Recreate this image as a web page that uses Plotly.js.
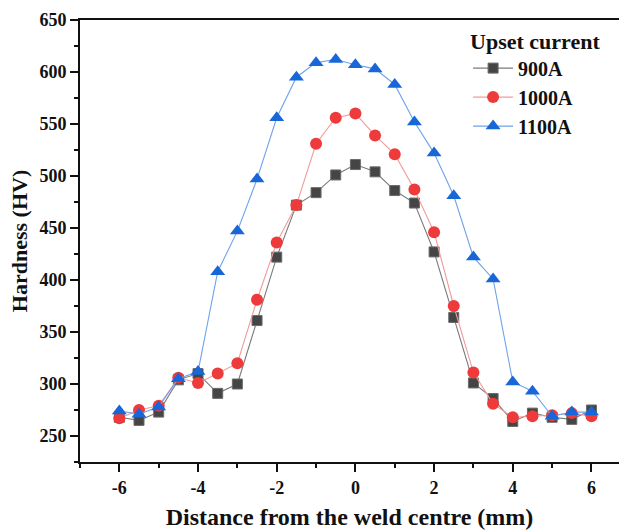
<!DOCTYPE html>
<html>
<head>
<meta charset="utf-8">
<script src="https://cdn.plot.ly/plotly-3.0.1.min.js"></script>
<style>html,body{margin:0;padding:0;background:#fff;}#chart{width:619px;height:530px;}</style>
</head>
<body>
<div id="chart"></div>
<script>
const distance = [-6,-5.5,-5,-4.5,-4,-3.5,-3,-2.5,-2,-1.5,-1,-0.5,0,0.5,1,1.5,2,2.5,3,3.5,4,4.5,5,5.5,6];
const hv900 = [268,265,273,304,310,291,300,361,422,472,484,501,511,504,486,474,427,364,301,286,264,272,268,266,275];
const hv1000 = [267,275,279,306,301,310,320,381,436,472,531,556,560,539,521,487,446,375,311,281,268,269,270,272,269];
const hv1100 = [274,271,278,305,312,408,447,497,556,595,609,612,607,603,588,552,522,481,422,401,302,293,269,273,273];
const seriesNames = ['900A','1000A','1100A'];
const legendTitle = 'Upset current';
const xTitle = 'Distance from the weld centre (mm)';
const yTitle = 'Hardness (HV)';

const font = 'Liberation Serif, Times New Roman, serif';
const traces = [
  {x: distance, y: hv900, name: seriesNames[0], mode: 'lines+markers',
   line: {color: '#7a7a7a', width: 1.1},
   marker: {symbol: 'square', size: 10, color: '#454545', line: {color: '#6a6a6a', width: 1}}},
  {x: distance, y: hv1000, name: seriesNames[1], mode: 'lines+markers',
   line: {color: '#f29a9a', width: 1.1},
   marker: {symbol: 'circle', size: 12, color: '#ee3a3a', line: {width: 0}}},
  {x: distance, y: hv1100, name: seriesNames[2], mode: 'lines+markers',
   line: {color: '#6fa2ea', width: 1.1},
   marker: {symbol: 'triangle-up', size: 13, color: '#1767d8', line: {width: 0}}}
];
const layout = {
  width: 619, height: 530,
  margin: {l: 80, r: 0, t: 20, b: 68},
  paper_bgcolor: '#fff', plot_bgcolor: '#fff',
  font: {family: font, color: '#111', size: 15},
  showlegend: true,
  legend: {x: 0.72, y: 1.0, xanchor: 'left', yanchor: 'top',
    title: {text: '<b>' + legendTitle + '</b>', font: {family: font, size: 22, color: '#111'}, side: 'top'},
    font: {family: font, size: 20, color: '#111', weight: 'bold'},
    bgcolor: 'rgba(0,0,0,0)', tracegroupgap: 0, itemwidth: 40},
  xaxis: {
    range: [-7, 6.7], tickvals: [-6,-4,-2,0,2,4,6], ticktext: ['-6','-4','-2','0','2','4','6'],
    showgrid: false, zeroline: false, showline: true, linecolor: '#111', linewidth: 2, mirror: true,
    ticks: 'outside', ticklen: 8, tickwidth: 2, tickcolor: '#111',
    minor: {tickvals: [-7,-5,-3,-1,1,3,5], ticks: 'outside', ticklen: 4, tickwidth: 2, tickcolor: '#111', showgrid: false},
    tickfont: {family: font, size: 18, color: '#111', weight: 'bold'},
    title: {text: '<b>' + xTitle + '</b>', font: {family: font, size: 24, color: '#111'}, standoff: 12}
  },
  yaxis: {
    range: [225, 650], tickvals: [250,300,350,400,450,500,550,600,650],
    showgrid: false, zeroline: false, showline: true, linecolor: '#111', linewidth: 2, mirror: false,
    ticks: 'outside', ticklen: 8, tickwidth: 2, tickcolor: '#111',
    minor: {tickvals: [225,275,325,375,425,475,525,575,625], ticks: 'outside', ticklen: 4, tickwidth: 2, tickcolor: '#111', showgrid: false},
    tickfont: {family: font, size: 18, color: '#111', weight: 'bold'},
    title: {text: '<b>' + yTitle + '</b>', font: {family: font, size: 22, color: '#111'}, standoff: 6}
  }
};
Plotly.newPlot('chart', traces, layout, {staticPlot: true, displayModeBar: false});
</script>
</body>
</html>
